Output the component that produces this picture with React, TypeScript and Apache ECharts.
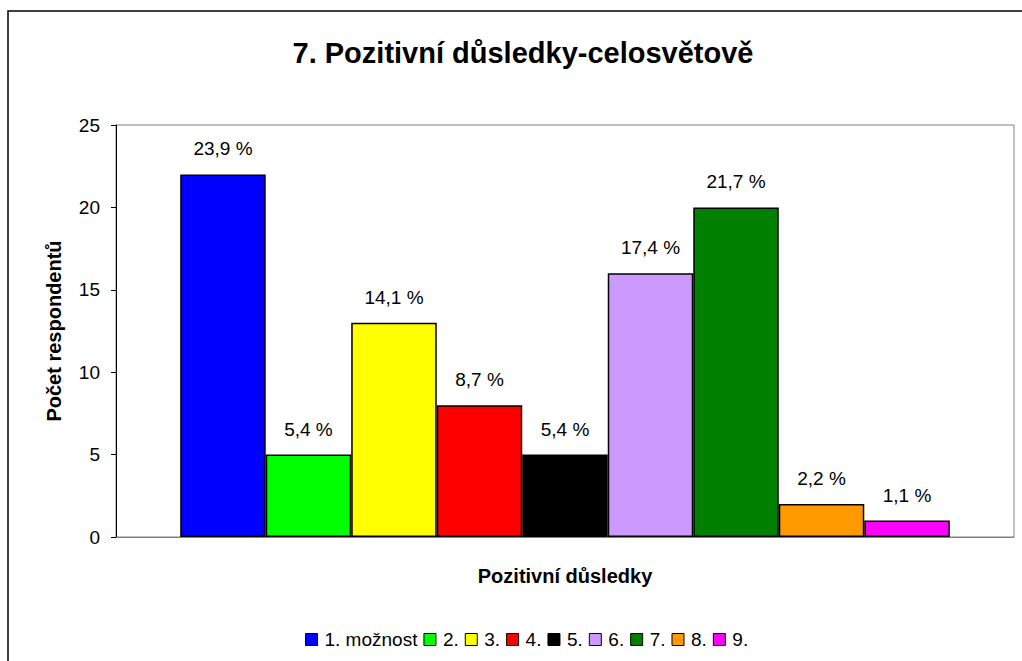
import React, { useEffect, useRef } from "react";
import * as echarts from "echarts";

const seriesNames = ["1. možnost", "2.", "3.", "4.", "5.", "6.", "7.", "8.", "9."];
const seriesValues = [22, 5, 13, 8, 5, 16, 20, 2, 1];
const percentLabels = ["23,9 %", "5,4 %", "14,1 %", "8,7 %", "5,4 %", "17,4 %", "21,7 %", "2,2 %", "1,1 %"];
const seriesColors = ["#0000FF", "#00FF00", "#FFFF00", "#FF0000", "#000000", "#CC99FF", "#008000", "#FF9900", "#FF00FF"];
const yTicks = [0, 5, 10, 15, 20, 25];

const FONT = "'Liberation Sans', Arial, sans-serif";

export default function App() {
  const ref = useRef<HTMLDivElement>(null);
  useEffect(() => {
    if (!ref.current) return;
    const chart = echarts.init(ref.current, undefined, { renderer: "svg" });
    chart.setOption({
      animation: false,
      backgroundColor: "#ffffff",
      textStyle: { fontFamily: FONT },
      title: {
        text: "7. Pozitivní důsledky-celosvětově",
        left: 518,
        textAlign: "center",
        top: 33,
        textStyle: { fontFamily: FONT, fontSize: 29, fontWeight: "bold", color: "#000" },
      },
      graphic: [
        {
          type: "rect",
          shape: { x: 8, y: 11, width: 1040, height: 700 },
          style: { fill: "none", stroke: "#000", lineWidth: 1.5 },
          silent: true,
          z: -1,
        },
      ],
      legend: {
        bottom: 12,
        left: 305,
        padding: 0,
        itemWidth: 12,
        itemHeight: 12,
        itemGap: 6,
        icon: "rect",
        textStyle: { fontFamily: FONT, fontSize: 19, color: "#000", padding: [0, 0, 0, 2] },
        data: seriesNames,
        itemStyle: { borderColor: "#000", borderWidth: 1 },
      },
      grid: {
        left: 116,
        top: 125,
        right: 8,
        bottom: 124,
        show: true,
        borderColor: "#808080",
        borderWidth: 1,
      },
      xAxis: {
        type: "category",
        data: [""],
        name: "Pozitivní důsledky",
        nameLocation: "middle",
        nameGap: 29,
        nameTextStyle: { fontFamily: FONT, fontSize: 20, fontWeight: "bold", color: "#000" },
        axisLine: { lineStyle: { color: "#808080", width: 1 } },
        axisTick: { show: false },
        axisLabel: { show: false },
      },
      yAxis: {
        type: "value",
        min: yTicks[0],
        max: yTicks[yTicks.length - 1],
        interval: 5,
        name: "Počet respondentů",
        nameLocation: "middle",
        nameRotate: 90,
        nameGap: 52,
        nameTextStyle: { fontFamily: FONT, fontSize: 20, fontWeight: "bold", color: "#000" },
        axisLine: { show: true, lineStyle: { color: "#000", width: 1 } },
        axisTick: { show: true, length: 5, lineStyle: { color: "#000" } },
        axisLabel: { fontFamily: FONT, fontSize: 19, color: "#000", margin: 16 },
        splitLine: { show: false },
      },
      series: seriesNames.map((name, i) => ({
        type: "bar",
        name,
        data: [seriesValues[i]],
        barGap: "0%",
        barCategoryGap: "14.3%",
        itemStyle: { color: seriesColors[i], borderColor: "#000", borderWidth: 1.5 },
        label: {
          show: true,
          position: "top",
          distance: 16,
          formatter: () => percentLabels[i],
          fontFamily: FONT,
          fontSize: 19,
          color: "#000",
        },
      })),
    });
    return () => chart.dispose();
  }, []);
  return (
    <div
      ref={ref}
      style={{ position: "fixed", left: 0, top: 0, width: 1022, height: 661 }}
    />
  );
}
